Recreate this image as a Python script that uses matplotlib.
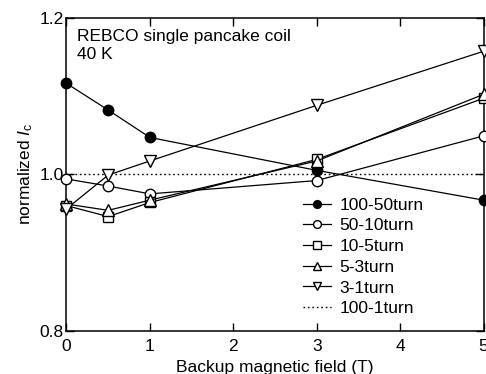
import matplotlib
matplotlib.use("Agg")
import matplotlib.pyplot as plt

plt.rcParams['font.family'] = ['Liberation Sans', 'DejaVu Sans']
plt.rcParams['mathtext.fontset'] = 'custom'
plt.rcParams['mathtext.rm'] = 'Liberation Sans'
plt.rcParams['mathtext.it'] = 'Liberation Sans:italic'

field = [0, 0.5, 1, 3, 5]
turns_100_50 = [1.116, 1.082, 1.047, 1.005, 0.967]
turns_50_10 = [0.994, 0.985, 0.975, 0.992, 1.049]
turns_10_5 = [0.960, 0.946, 0.964, 1.019, 1.097]
turns_5_3 = [0.962, 0.954, 0.967, 1.017, 1.102]
turns_3_1 = [0.956, 0.999, 1.017, 1.088, 1.157]
ref_field = [0, 5]
ref_100_1 = [1.0, 1.0]

fs = 12.5

fig = plt.figure(figsize=(4.86, 3.74), dpi=100)
ax = fig.add_axes([0.1368, 0.115, 0.8582, 0.838])

lw = 0.9
ms = 7.5
ax.plot(ref_field, ref_100_1, ls=(0, (1.2, 2.0)), color='black', lw=1.0,
        label='100-1turn', zorder=1)
ax.plot(field, turns_100_50, '-o', color='black', mfc='black', ms=ms, lw=lw,
        label='100-50turn', clip_on=False, zorder=2)
ax.plot(field, turns_50_10, '-o', color='black', mfc='white', ms=ms, lw=lw,
        label='50-10turn', clip_on=False, zorder=3)
ax.plot(field, turns_10_5, '-s', color='black', mfc='white', ms=ms - 0.5, lw=lw,
        label='10-5turn', clip_on=False, zorder=4)
ax.plot(field, turns_5_3, '-^', color='black', mfc='white', ms=ms + 0.5, lw=lw,
        label='5-3turn', clip_on=False, zorder=5)
ax.plot(field, turns_3_1, '-v', color='black', mfc='white', ms=ms + 0.5, lw=lw,
        label='3-1turn', clip_on=False, zorder=6)

ax.set_xlim(0, 5)
ax.set_ylim(0.8, 1.2)
ax.set_xticks([0, 1, 2, 3, 4, 5])
ax.set_yticks([0.8, 1.0, 1.2])
ax.set_yticklabels(['0.8', '1.0', '1.2'])
ax.tick_params(direction='in', top=True, right=True, length=5.5, width=1,
               labelsize=fs)
ax.tick_params(axis='x', pad=6)
ax.tick_params(axis='y', pad=2)
for s in ax.spines.values():
    s.set_linewidth(1.1)

ax.set_xlabel('Backup magnetic field (T)', fontsize=fs, labelpad=4)
ax.set_ylabel(r'normalized $I_{\mathrm{c}}$', fontsize=fs, labelpad=3)

ax.text(0.025, 0.965, 'REBCO single pancake coil\n40 K', transform=ax.transAxes,
        ha='left', va='top', fontsize=fs, linespacing=1.3)

handles, labels = ax.get_legend_handles_labels()
order = [1, 2, 3, 4, 5, 0]
ax.legend([handles[i] for i in order], [labels[i] for i in order],
          loc='lower left', bbox_to_anchor=(0.55, 0.025), frameon=False,
          fontsize=fs, handlelength=1.6, handletextpad=0.5,
          labelspacing=0.32, markerscale=0.75, borderaxespad=0)

fig.savefig('out.png', dpi=100)
